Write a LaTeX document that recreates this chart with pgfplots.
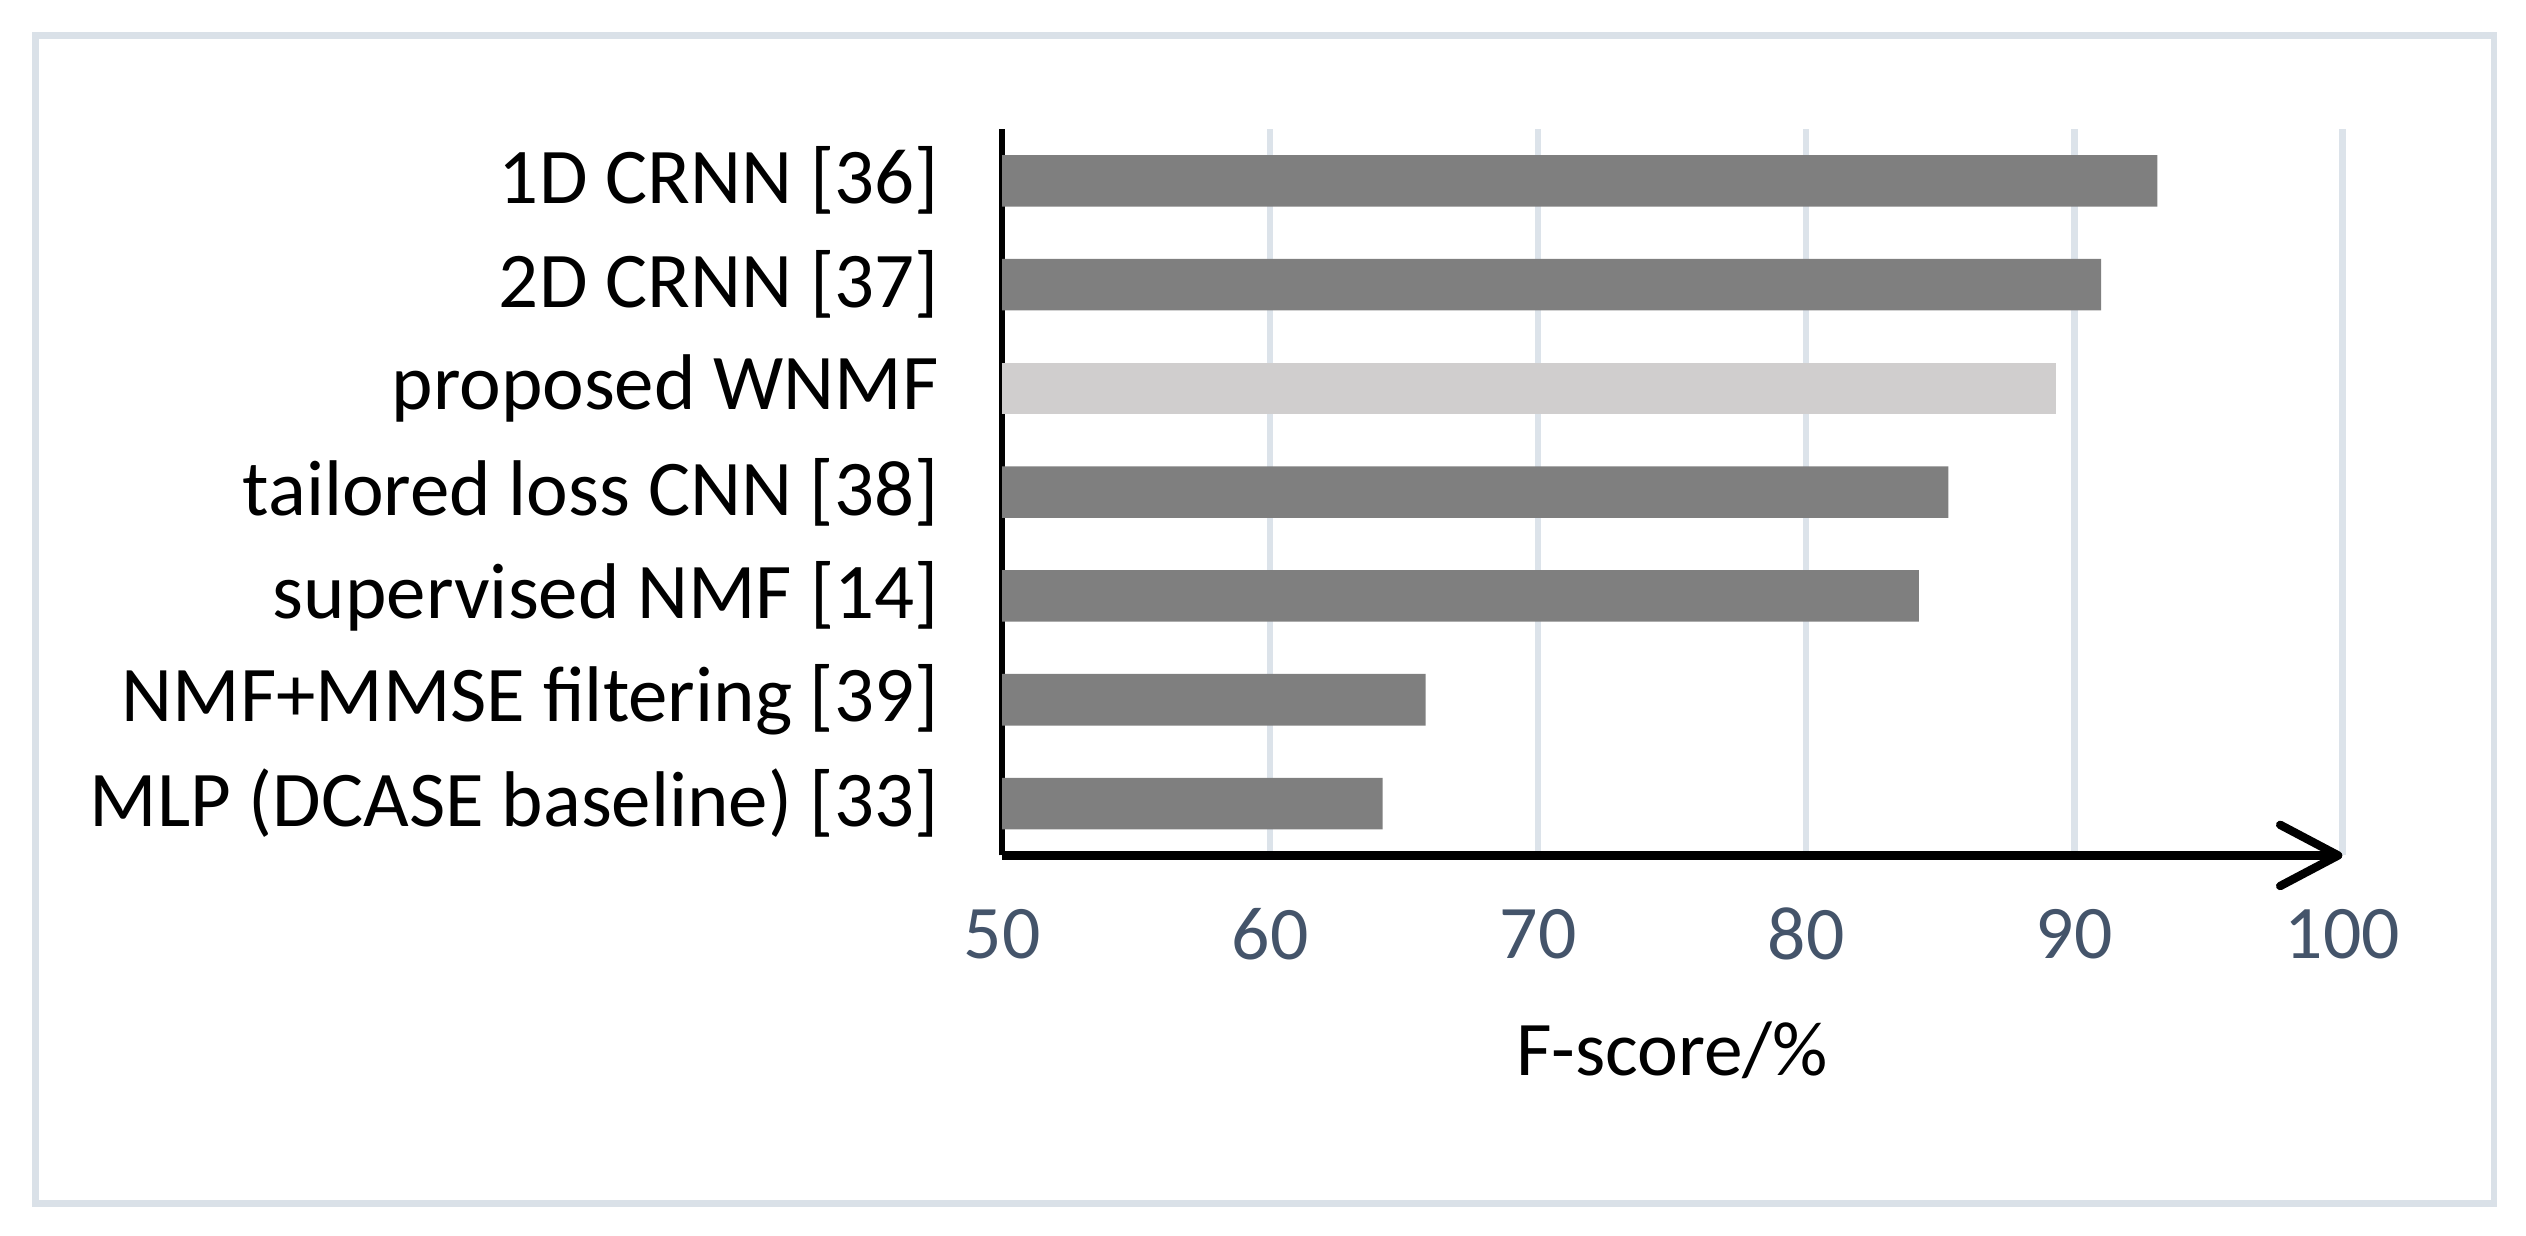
\documentclass[border=0pt]{standalone}
\usepackage{fontspec}
\setmainfont{Carlito}
\usepackage{pgfplots}
\pgfplotsset{compat=1.18}
\usetikzlibrary{arrows.meta}
\definecolor{gridc}{HTML}{DCE3EA}
\definecolor{framec}{HTML}{DAE1E8}
\definecolor{barA}{HTML}{7F7F7F}
\definecolor{barB}{HTML}{D0CECE}
\definecolor{tickc}{HTML}{44546A}
\begin{document}
\begin{tikzpicture}
\useasboundingbox (0,0) rectangle (784pt,383.5pt);
\draw[framec, line width=2pt] (11pt,10pt) rectangle (774pt,372.5pt);
\begin{axis}[
  at={(311pt,118pt)}, anchor=south west,
  scale only axis, width=416pt, height=225.5pt,
  xbar, bar width=16pt,
  xmin=50, xmax=100, ymin=-0.5, ymax=6.5,
  xtick={50,60,...,100},
  ytick={0,...,6},
  yticklabels={MLP (DCASE baseline) [33], NMF+MMSE filtering [39], supervised NMF [14], tailored loss CNN [38], proposed WNMF, 2D CRNN [37], 1D CRNN [36]},
  axis x line=bottom, axis y line*=left,
  x axis line style={black, line width=2.6pt, -{Straight Barb[length=18pt, width=19pt, line cap=round, line join=round]}},
  y axis line style={black, line width=2.1pt},
  major tick length=0pt,
  tick style={draw=none},
  xmajorgrids, ymajorgrids=false,
  grid style={gridc, line width=2pt},
  /pgf/number format/assume math mode=true,
  xticklabel style={font=\fontsize{23.5}{28}\selectfont, text=tickc, anchor=center, yshift=-24.5pt},
  yticklabel style={font=\fontsize{24.5}{29}\selectfont, anchor=east, inner sep=0pt, xshift=-19.5pt},
  xlabel={F-score/\%},
  xlabel style={font=\fontsize{24}{29}\selectfont, at={(axis description cs:0.5,0)}, anchor=center, yshift=-60.5pt},
]
\addplot[fill=barA, draw=none, bar shift=0pt] coordinates {(93.1,6) (91.0,5) (85.3,3) (84.2,2) (65.8,1) (64.2,0)};
\addplot[fill=barB, draw=none, bar shift=0pt] coordinates {(89.3,4)};
\end{axis}
\end{tikzpicture}
\end{document}
